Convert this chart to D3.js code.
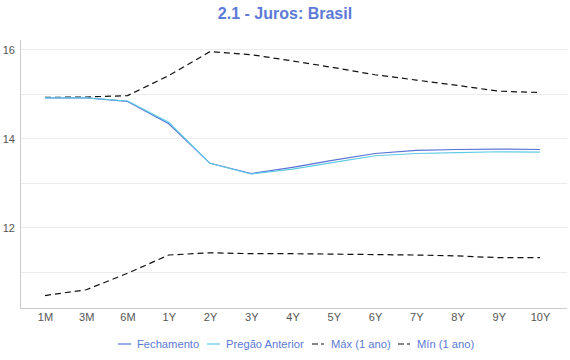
<!DOCTYPE html>
<meta charset='utf-8'>
<style>
body { margin: 0; background: #fff; }
text { font-family: 'Liberation Sans', Arial, sans-serif; }
.tick text { fill: #555; font-size: 11px; }
</style>
<svg width='570' height='360'></svg>
<script src='https://cdnjs.cloudflare.com/ajax/libs/d3/7.8.5/d3.min.js'></script>
<script>
// vertices / maturities
var categories = ['1M','3M','6M','1Y','2Y','3Y','4Y','5Y','6Y','7Y','8Y','9Y','10Y'];
var fechamento = [14.92,14.92,14.84,14.34,13.45,13.22,13.36,13.52,13.67,13.74,13.76,13.77,13.76];
var pregaoAnterior = [14.92,14.92,14.85,14.37,13.45,13.21,13.32,13.47,13.62,13.67,13.69,13.71,13.70];
var maxAno = [14.93,14.94,14.97,15.42,15.96,15.89,15.75,15.60,15.44,15.32,15.20,15.07,15.04];
var minAno = [10.48,10.61,10.98,11.39,11.44,11.42,11.42,11.41,11.40,11.39,11.37,11.33,11.33];
var yTicks = [12, 14, 16];
var yGrid = [11, 12, 13, 14, 15, 16];

var series = [
  {name: 'Fechamento', values: fechamento, color: '#5a72d6', dash: null},
  {name: 'Pregão Anterior', values: pregaoAnterior, color: '#62cbe4', dash: null},
  {name: 'Máx (1 ano)', values: maxAno, color: '#111', dash: '6,4'},
  {name: 'Mín (1 ano)', values: minAno, color: '#111', dash: '6,4'}
];

var svg = d3.select('svg');
// plot box in px ('top' is reserved on window, so use other names)
var plotLeft = 20, plotRight = 567, plotTop = 40, plotBottom = 308;

var x = d3.scalePoint().domain(categories).range([45, 540]);
var y = d3.scaleLinear().domain([10.2, 16.22]).range([plotBottom, plotTop]);

// title
svg.append('text')
  .attr('x', 285).attr('y', 19)
  .attr('text-anchor', 'middle')
  .style('font-size', '16px').style('font-weight', 'bold')
  .style('fill', '#5b7ad6')
  .text('2.1 - Juros: Brasil');

// grid
svg.append('g').selectAll('line').data(yGrid).join('line')
  .attr('x1', plotLeft).attr('x2', plotRight)
  .attr('y1', d => y(d)).attr('y2', d => y(d))
  .attr('stroke', '#ececec').attr('stroke-width', 1)
  .attr('shape-rendering', 'crispEdges');

// y axis
var yAxis = svg.append('g')
  .attr('transform', `translate(${plotLeft},0)`)
  .call(d3.axisLeft(y).tickValues(yTicks).tickSize(0).tickPadding(5).tickFormat(d3.format('d')));
yAxis.select('.domain').remove();
svg.append('line')
  .attr('x1', plotLeft).attr('x2', plotLeft).attr('y1', plotTop).attr('y2', plotBottom)
  .attr('stroke', '#ccc').attr('shape-rendering', 'crispEdges');

// x axis
var xAxis = svg.append('g')
  .attr('transform', `translate(0,${plotBottom})`)
  .call(d3.axisBottom(x).tickSize(0).tickPadding(5));
xAxis.select('.domain').remove();
svg.append('line')
  .attr('x1', plotLeft).attr('x2', plotRight).attr('y1', plotBottom).attr('y2', plotBottom)
  .attr('stroke', '#ccc').attr('shape-rendering', 'crispEdges');

var line = d3.line()
  .x((d, i) => x(categories[i]))
  .y(d => y(d));

// dashed bands first, then fechamento, pregão anterior on top
var drawOrder = [series[2], series[3], series[0], series[1]];
svg.append('g').selectAll('path').data(drawOrder).join('path')
  .attr('d', d => line(d.values))
  .attr('fill', 'none')
  .attr('stroke', d => d.color)
  .attr('stroke-width', 1.2)
  .attr('stroke-dasharray', d => d.dash);

// legend
var legendX = [118, 207, 312, 398];
var lg = svg.append('g').selectAll('g').data(series).join('g')
  .attr('transform', (d, i) => `translate(${legendX[i]},344)`);
lg.append('line')
  .attr('x1', 0).attr('x2', 13).attr('y1', 0).attr('y2', 0)
  .attr('stroke', d => d.color).attr('stroke-width', 1.2)
  .attr('stroke-dasharray', d => d.dash ? '6,3,3,10' : null);
lg.append('text')
  .attr('x', 19).attr('y', 4)
  .style('font-size', '11.2px').style('fill', '#5b7ad6')
  .text(d => d.name);
</script>
